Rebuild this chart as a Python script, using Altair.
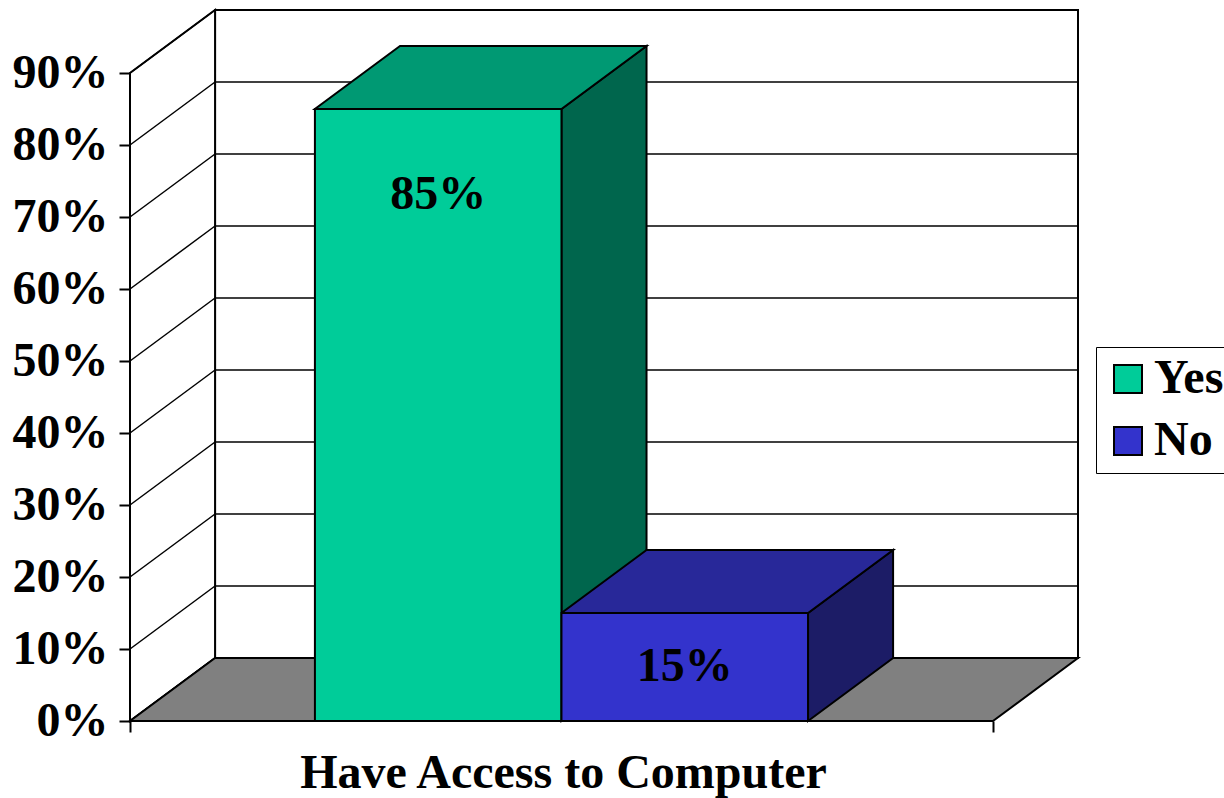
import altair as alt
import pandas as pd

# ---- data ----
categories = ["Yes", "No"]
values = [85, 15]
tick_values = [0, 10, 20, 30, 40, 50, 60, 70, 80, 90]
x_title = "Have Access to Computer"

# ---- styles ----
front_colors = ["#00CC99", "#3333CC"]
top_colors = ["#009973", "#282899"]
side_colors = ["#00664D", "#1C1C66"]
floor_color = "#808080"
FONT = "Liberation Serif"
FS = 48

# ---- 3D layout (in bar-width units / percent units) ----
BAR_W = 1.0
GAP = 1.5
CAT_W = 2 * BAR_W + GAP
DX = 0.345   # depth offset along x (bar-width units)
DY = 8.75    # depth offset along y (percent units)
Y_MAX = max(tick_values)

xs = alt.Scale(domain=[0, CAT_W + DX], nice=False, zero=False)
ys = alt.Scale(domain=[0, Y_MAX + DY], nice=False, zero=False)

x0s = [GAP / 2 + i * BAR_W for i in range(len(categories))]
x1s = [x + BAR_W for x in x0s]

front = pd.DataFrame({
    "cat": categories, "x0": x0s, "x1": x1s, "v": values, "base": [0] * len(values),
    "xc": [(a + b) / 2 for a, b in zip(x0s, x1s)],
    "label": [f"{v}%" for v in values],
    "ly": [max(v / 2, v - 12) for v in values],
})

top_rows, side_rows = [], []
for c, a, b, v, tc, sc in zip(categories, x0s, x1s, values, top_colors, side_colors):
    top_rows += [
        {"cat": c, "y": v, "xa": a, "xb": b, "fill": tc},
        {"cat": c, "y": v + DY, "xa": a + DX, "xb": b + DX, "fill": tc},
    ]
    side_rows += [
        {"cat": c, "x": b, "ya": 0, "yb": v, "fill": sc},
        {"cat": c, "x": b + DX, "ya": DY, "yb": v + DY, "fill": sc},
    ]
tops = pd.DataFrame(top_rows)
sides = pd.DataFrame(side_rows)

floor = pd.DataFrame([
    {"y": 0, "xa": 0, "xb": CAT_W},
    {"y": DY, "xa": DX, "xb": CAT_W + DX},
])
left_wall = pd.DataFrame([
    {"x": 0, "ya": 0, "yb": Y_MAX},
    {"x": DX, "ya": DY, "yb": Y_MAX + DY},
])
back_wall = pd.DataFrame([{"xa": DX, "xb": CAT_W + DX, "ya": DY, "yb": Y_MAX + DY}])
back_grid = pd.DataFrame({"t": tick_values, "y": [t + DY for t in tick_values],
                          "xa": [DX] * len(tick_values), "xb": [CAT_W + DX] * len(tick_values)})
left_grid = pd.DataFrame({"t": tick_values, "ya": tick_values, "yb": [t + DY for t in tick_values],
                          "xa": [0] * len(tick_values), "xb": [DX] * len(tick_values)})
axis_lines = pd.DataFrame([
    {"xa": 0, "xb": 0, "ya": 0, "yb": Y_MAX},
    {"xa": 0, "xb": CAT_W, "ya": 0, "yb": 0},
])

# ---- layers ----
back = alt.Chart(back_wall).mark_rect(fill="white", stroke="black", strokeWidth=2).encode(
    x=alt.X("xa:Q", scale=xs, axis=None), x2="xb",
    y=alt.Y("ya:Q", scale=ys, axis=None), y2="yb",
)
bgrid = alt.Chart(back_grid).mark_rule(color="black", strokeWidth=1.5).encode(
    x=alt.X("xa:Q", scale=xs, axis=None), x2="xb",
    y=alt.Y("y:Q", scale=ys, axis=None),
)
lwall = alt.Chart(left_wall).mark_area(orient="vertical", fill="white", stroke="black",
                                       strokeWidth=2).encode(
    x=alt.X("x:Q", scale=xs, axis=None),
    y=alt.Y("ya:Q", scale=ys, axis=None, stack=None), y2="yb",
)
lgrid = alt.Chart(left_grid).mark_rule(color="black", strokeWidth=1.5).encode(
    x=alt.X("xa:Q", scale=xs, axis=None), x2="xb",
    y=alt.Y("ya:Q", scale=ys, axis=None), y2="yb",
)
floor_l = alt.Chart(floor).mark_area(orient="horizontal", fill=floor_color, stroke="black",
                                     strokeWidth=2).encode(
    y=alt.Y("y:Q", scale=ys, axis=None),
    x=alt.X("xa:Q", scale=xs, axis=None, stack=None), x2="xb",
)
side_l = alt.Chart(sides).mark_area(orient="vertical", stroke="black", strokeWidth=2).encode(
    x=alt.X("x:Q", scale=xs, axis=None),
    y=alt.Y("ya:Q", scale=ys, axis=None, stack=None), y2="yb",
    fill=alt.Fill("fill:N", scale=None), detail="cat:N",
)
top_l = alt.Chart(tops).mark_area(orient="horizontal", stroke="black", strokeWidth=2).encode(
    y=alt.Y("y:Q", scale=ys, axis=None),
    x=alt.X("xa:Q", scale=xs, axis=None, stack=None), x2="xb",
    fill=alt.Fill("fill:N", scale=None), detail="cat:N",
)
front_l = alt.Chart(front).mark_rect(stroke="black", strokeWidth=2).encode(
    x=alt.X("x0:Q", scale=xs, axis=None), x2="x1",
    y=alt.Y("v:Q", scale=ys, axis=None), y2="base",
    color=alt.Color("cat:N", scale=alt.Scale(domain=categories, range=front_colors),
                    sort=categories,
                    legend=alt.Legend(
                        title=None, orient="none", legendX=966, legendY=337,
                        symbolType="square", symbolSize=784,
                        symbolStrokeColor="black", symbolStrokeWidth=2,
                        labelFont=FONT, labelFontSize=FS, labelFontWeight="bold",
                        labelColor="black", labelOffset=2, rowPadding=14,
                        padding=8, strokeColor="black",
                    )),
)
labels = alt.Chart(front).mark_text(font=FONT, fontSize=FS, fontWeight="bold", color="black",
                                    baseline="middle", align="center").encode(
    x=alt.X("xc:Q", scale=xs, axis=None),
    y=alt.Y("ly:Q", scale=ys, axis=None),
    text="label:N",
)
axes = alt.Chart(axis_lines).mark_rule(color="black", strokeWidth=2).encode(
    x=alt.X("xa:Q", scale=xs, axis=alt.Axis(
        values=[0, CAT_W], labels=False, domain=False, grid=False,
        ticks=True, tickSize=11, tickWidth=2, tickColor="black",
        title=x_title, titleFont=FONT, titleFontSize=FS, titleFontWeight="bold",
        titleColor="black", titleX=433, titleY=66, titleBaseline="alphabetic",
        titleAlign="center")),
    x2="xb",
    y=alt.Y("ya:Q", scale=ys, axis=alt.Axis(
        values=tick_values, labelExpr="datum.value + '%'", domain=False, grid=False,
        ticks=True, tickSize=11, tickWidth=2, tickColor="black",
        labelFont=FONT, labelFontSize=FS, labelFontWeight="bold", labelColor="black",
        labelPadding=11, title=None)),
    y2="yb",
)

chart = alt.layer(back, bgrid, lwall, lgrid, floor_l, side_l, top_l, front_l, labels, axes).resolve_axis(
    x="independent", y="independent"
).properties(
    width=948, height=711, autosize="none",
    padding={"left": 130, "top": 10, "right": 146, "bottom": 77},
    background="white",
).configure_view(stroke=None)

chart.save("out.html", embed_options={"renderer": "svg", "actions": False})
